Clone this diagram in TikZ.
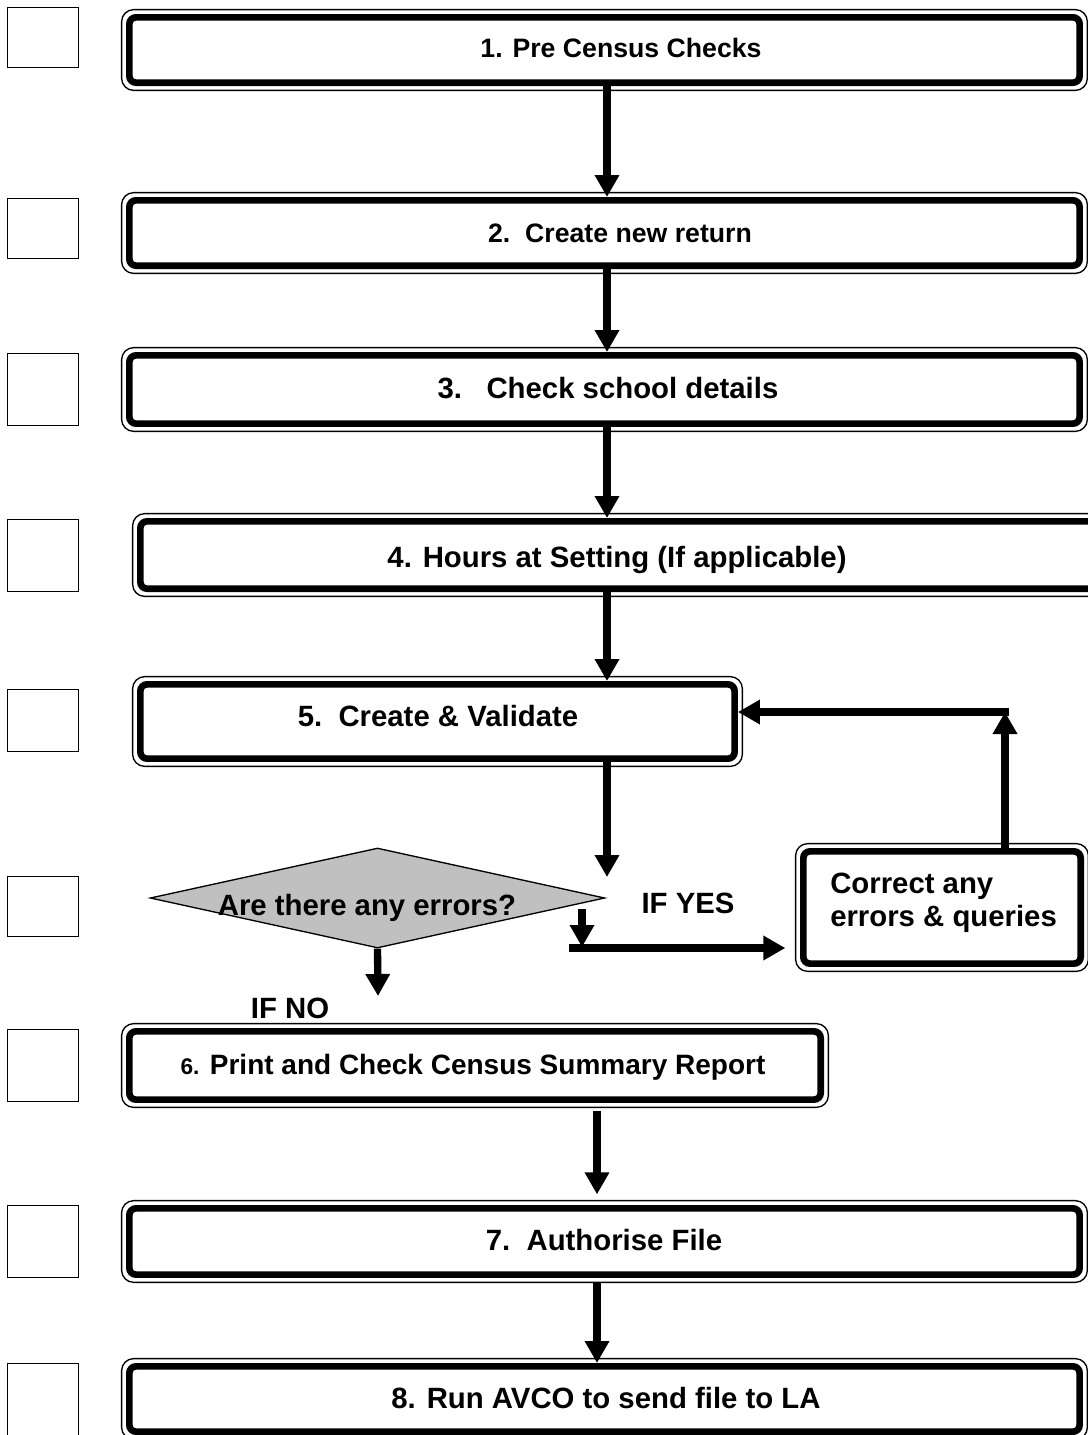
\documentclass[tikz,border=0pt]{standalone}
\usepackage{fontspec}
\setmainfont{Liberation Sans}
\usetikzlibrary{arrows.meta,shapes.geometric}

\definecolor{decisiongray}{RGB}{192,192,192}

\tikzset{
  stagebox/.style={draw, line width=5pt, rounded corners=5pt, inner sep=0pt},
  stageframe/.style={draw, line width=1pt, rounded corners=9pt},
  tickbox/.style={draw, line width=1pt, minimum width=53pt, inner sep=0pt},
  decision/.style={diamond, draw, line width=1pt, fill=decisiongray, inner sep=0pt},
  flow/.style={line width=5.5pt, -{Triangle[length=16.5pt,width=17.5pt]}},
  steplabel/.style={font=\fontsize{22}{25}\selectfont\bfseries, inner sep=0pt, text height=15.8pt, text depth=0pt},
  smalllabel/.style={steplabel, font=\fontsize{20}{23}\selectfont\bfseries, text height=14.4pt},
  notelabel/.style={font=\fontsize{22}{24.75}\selectfont\bfseries, inner sep=0pt, align=left},
}

\begin{document}
\begin{tikzpicture}[x=0.75pt,y=-0.75pt]
\useasboundingbox (0,0) rectangle (1088,1435);

%Shape: tick boxes down the left
\node[tickbox, minimum height=44.8pt] (q1) at (43,37.5) {};
\node[tickbox, minimum height=44.8pt] (q2) at (43,228.5) {};
\node[tickbox, minimum height=53.8pt] (q3) at (43,389.5) {};
\node[tickbox, minimum height=53.8pt] (q4) at (43,555.5) {};
\node[tickbox, minimum height=46.3pt] (q5) at (43,720.5) {};
\node[tickbox, minimum height=44.8pt] (q6) at (43,906.5) {};
\node[tickbox, minimum height=53.8pt] (q7) at (43,1065.5) {};
\node[tickbox, minimum height=53.8pt] (q8) at (43,1241.5) {};
\node[tickbox, minimum height=58pt] (q9) at (43,1402) {};

%Shape: stage boxes
\node[stagebox, minimum width=712.7pt, minimum height=49pt] (b1) at (604.5,50) {};
\node[stagebox, minimum width=712.7pt, minimum height=49pt] (b2) at (604.5,233) {};
\node[stagebox, minimum width=712.7pt, minimum height=51.2pt] (b3) at (604.5,389.5) {};
\node[stagebox, minimum width=715.7pt, minimum height=50.5pt] (b4) at (617.5,555) {};
\node[stagebox, minimum width=445.7pt, minimum height=55.7pt] (b5) at (437.5,721.5) {};
\node[stagebox, minimum width=208pt, minimum height=84.2pt] (fix) at (942,907.5) {};
\node[stagebox, minimum width=518.5pt, minimum height=51.2pt] (b6) at (475,1065.5) {};
\node[stagebox, minimum width=712.7pt, minimum height=49.7pt] (b7) at (604.5,1241.5) {};
\node[stagebox, minimum width=712.7pt, minimum height=49pt] (b8) at (604.5,1399) {};
% thin outer frame round each stage box
\foreach \n in {b1,b2,b3,b4,b5,fix,b6,b7,b8}
  \draw[stageframe] ([shift={(-3.3pt,-3.3pt)}]\n.south west) rectangle ([shift={(3.3pt,3.3pt)}]\n.north east);

%Shape: Diamond
\node[decision, minimum width=341pt, minimum height=75pt] (dec) at (377.5,898) {};

% Text Node
\node[smalllabel] (t1) at (621,48) {1. Pre Census Checks};
\node[smalllabel] (t2) at (620,233) {2.\ \ Create new return};
\node[steplabel] (t3) at (608,388) {3.\ \ \ Check school details};
\node[steplabel] (t4) at (617,557) {4. Hours at Setting (If applicable)};
\node[steplabel] (t5) at (438,716) {5.\ \ Create \& Validate};
\node[steplabel, font=\fontsize{21}{24}\selectfont\bfseries] (t6) at (473,1064) {{\fontsize{17}{20}\selectfont 6.} Print and Check Census Summary Report};
\node[steplabel] (t7) at (604,1240) {7.\ \ Authorise File};
\node[steplabel] (t8) at (606,1398) {8. Run AVCO to send file to LA};
\node[notelabel, anchor=west] (t9) at (830,903) {Correct any\\errors \& queries};
\node[steplabel] (dq) at (367,905) {Are there any errors?};
\node[steplabel] (yes) at (688,903) {IF YES};
\node[steplabel] (no) at (290,1008) {IF NO};

%Straight Lines
\coordinate (spine) at (607,0);
\coordinate (spinelow) at (597,0);
\draw[flow] (b1.south -| spine) -- (b2.north -| spine);
\draw[flow] (b2.south -| spine) -- (b3.north -| spine);
\draw[flow] (b3.south -| spine) -- (b4.north -| spine);
\draw[flow] (b4.south -| spine) -- (b5.north -| spine);
\coordinate (dtip) at (607,877);
\draw[flow] (b5.south -| spine) -- (dtip);
\coordinate (nohead) at (378,996);
\draw[flow] (dec.south) -- (nohead);
\coordinate (yesdrop) at (582,909);
\coordinate (yesfoot) at (582,947);
\draw[flow] (yesdrop) -- (yesfoot);
\coordinate (yesrun) at (569,948);
\draw[flow, shorten >=11pt] (yesrun) -- (fix.west |- yesrun);
\coordinate (loop) at (1005,712);
\draw[flow] (fix.north -| loop) -- (loop);
\draw[flow] ([xshift=3pt]loop) -- (b5.east |- loop);
\draw[flow, shorten <=6pt, shorten >=8pt] (b6.south -| spinelow) -- (b7.north -| spinelow);
\draw[flow, shorten <=3pt] (b7.south -| spinelow) -- (b8.north -| spinelow);
\end{tikzpicture}
\end{document}
